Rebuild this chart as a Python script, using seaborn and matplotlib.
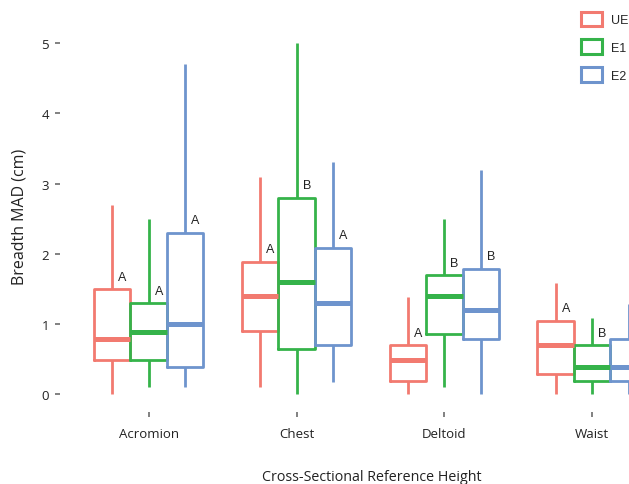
import numpy as np
import pandas as pd
import matplotlib
matplotlib.use("Agg")
import matplotlib.pyplot as plt
from matplotlib.patches import Patch
import seaborn as sns

# Five-number summaries (min, Q1, median, Q3, max)
categories = ["Acromion", "Chest", "Deltoid", "Waist"]
groups = ["UE", "E1", "E2"]
ue_vals = {
    "Acromion": [0.00, 0.49, 0.79, 1.50, 2.70],
    "Chest":    [0.10, 0.90, 1.40, 1.89, 3.09],
    "Deltoid":  [0.00, 0.19, 0.49, 0.70, 1.39],
    "Waist":    [0.00, 0.29, 0.70, 1.05, 1.59],
}
e1_vals = {
    "Acromion": [0.10, 0.49, 0.89, 1.30, 2.49],
    "Chest":    [0.00, 0.64, 1.60, 2.80, 5.00],
    "Deltoid":  [0.10, 0.86, 1.40, 1.70, 2.49],
    "Waist":    [0.00, 0.19, 0.39, 0.70, 1.09],
}
e2_vals = {
    "Acromion": [0.10, 0.39, 1.00, 2.30, 4.70],
    "Chest":    [0.17, 0.70, 1.30, 2.09, 3.30],
    "Deltoid":  [0.00, 0.79, 1.20, 1.79, 3.19],
    "Waist":    [0.00, 0.19, 0.39, 0.79, 1.29],
}
letters_ue = ["A", "A", "A", "A"]
letters_e1 = ["A", "B", "B", "B"]
letters_e2 = ["A", "A", "B", ""]   # the Waist E2 letter lies outside the visible area
y_ticks = [0, 1, 2, 3, 4, 5]

colors = {"UE": "#F27A70", "E1": "#35B34A", "E2": "#6E94CD"}

rows = []
for g, d in zip(groups, [ue_vals, e1_vals, e2_vals]):
    for c in categories:
        for v in d[c]:
            rows.append({"cat": c, "group": g, "val": v})
df = pd.DataFrame(rows)

sns.set_theme(style="white")
plt.rcParams["font.family"] = ["Open Sans", "DejaVu Sans"]

fig = plt.figure(figsize=(6.29, 4.85), dpi=100)
ax = fig.add_axes([0.0954, 0.1485, 0.987, 0.797])

width = 0.74
sns.boxplot(data=df, x="cat", y="val", hue="group", order=categories,
            hue_order=groups, palette=colors, fill=False, whis=np.inf,
            width=width, gap=0, linewidth=2.0, showcaps=False,
            medianprops={"linewidth": 3.6}, legend=False, ax=ax)

# significance letters
n = len(groups)
for gi, (g, lets, d) in enumerate(zip(groups, [letters_ue, letters_e1, letters_e2],
                                      [ue_vals, e1_vals, e2_vals])):
    off = (gi - (n - 1) / 2) * width / n
    for ci, c in enumerate(categories):
        if lets[ci]:
            ax.text(ci + off + 0.07, d[c][3] + 0.09, lets[ci], ha="center", va="bottom",
                    fontsize=9, family=["Liberation Sans", "DejaVu Sans"], color="#222222")

ax.set_xlim(-0.6, 3.6)
ax.set_ylim(-0.25, 5.25)
ax.set_yticks(y_ticks)
ax.set_yticklabels([str(t) for t in y_ticks])
for s in ax.spines.values():
    s.set_visible(False)
ax.tick_params(axis="both", length=3.5, width=1.3, color="#777777",
               labelsize=9.5, labelcolor="#222222", left=True, bottom=True)
ax.tick_params(axis="y", pad=4.5)
ax.tick_params(axis="x", pad=7)
ax.set_xlabel("")
ax.set_ylabel("")

fig.text(372 / 629, 1 - 478 / 485, "Cross-Sectional Reference Height",
         ha="center", va="center", fontsize=10.3, color="#222222")
fig.text(20 / 629, 1 - 217 / 485, "Breadth MAD (cm)", rotation=90,
         ha="center", va="center", fontsize=11.5, color="#222222")

handles = [Patch(facecolor="white", edgecolor=colors[g], linewidth=2.2, label=g)
           for g in groups]
fig.legend(handles=handles, loc="upper left", bbox_to_anchor=(578 / 629, 1 - 10 / 485),
           frameon=False, handlelength=1.7, handleheight=1.45,
           labelspacing=1.05, handletextpad=0.7, borderaxespad=0, borderpad=0.2,
           prop={"family": ["Liberation Sans", "DejaVu Sans"], "size": 9})

fig.savefig("out.png", dpi=100)
